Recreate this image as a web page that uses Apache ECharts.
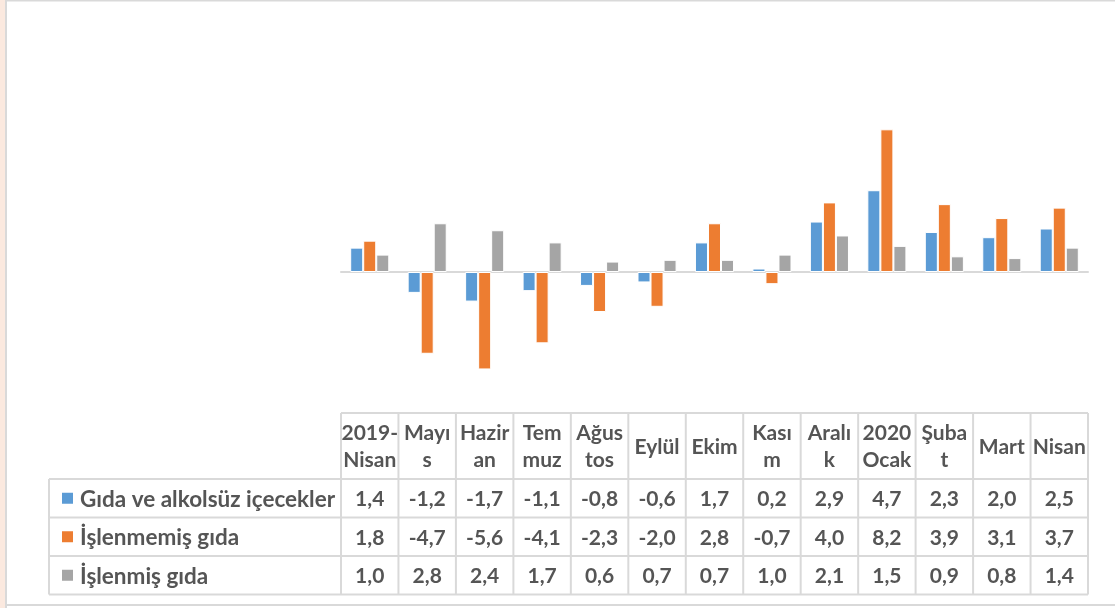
<!DOCTYPE html>
<html><head><meta charset="utf-8">
<script src="https://cdn.jsdelivr.net/npm/echarts@6/dist/echarts.min.js"></script>
<style>html,body{margin:0;padding:0;background:#fff}#c{width:1115px;height:608px}</style>
</head><body><div id="c"></div>
<script>
const categories = ['2019-Nisan','Mayıs','Haziran','Temmuz','Ağustos','Eylül','Ekim','Kasım','Aralık','2020 Ocak','Şubat','Mart','Nisan'];
const headerLabels = ['2019-\nNisan','Mayı\ns','Hazir\nan','Tem\nmuz','Ağus\ntos','Eylül','Ekim','Kası\nm','Aralı\nk','2020\nOcak','Şuba\nt','Mart','Nisan'];
const seriesNames = ['Gıda ve alkolsüz içecekler','İşlenmemiş gıda','İşlenmiş gıda'];
const gida = [1.4,-1.2,-1.7,-1.1,-0.8,-0.6,1.7,0.2,2.9,4.7,2.3,2.0,2.5];
const islenmemis = [1.8,-4.7,-5.6,-4.1,-2.3,-2.0,2.8,-0.7,4.0,8.2,3.9,3.1,3.7];
const islenmis = [1.0,2.8,2.4,1.7,0.6,0.7,0.7,1.0,2.1,1.5,0.9,0.8,1.4];
const seriesData = [gida, islenmemis, islenmis];
const colors = ['#5b9bd5','#ed7d31','#a5a5a5'];

const GL = 341, GW = 747, GT = 98, GH = 278.4;
const colW = GW / categories.length;
const tTop = 413, hdrH = 66, rowH = 38.5, legL = 49;
const FONT = 'Lato';
const TXT = '#555555';
const lineC = '#d9d9d9';

const fmt = v => v.toFixed(1).replace('.', ',');

const g = [];
// frame
g.push({type:'rect', shape:{x:0,y:0,width:5,height:608}, style:{fill:'#fbe9df'}, silent:true});
g.push({type:'line', shape:{x1:6,y1:0,x2:6,y2:608}, style:{stroke:lineC,lineWidth:2}, silent:true});
g.push({type:'line', shape:{x1:6,y1:0.5,x2:1115,y2:0.5}, style:{stroke:lineC,lineWidth:2}, silent:true});
g.push({type:'line', shape:{x1:6,y1:605,x2:1115,y2:605}, style:{stroke:lineC,lineWidth:2}, silent:true});

const tBot = tTop + hdrH + rowH * 3;
const GR = GL + GW;
g.push({type:'line', shape:{x1:GL,y1:tTop,x2:GR,y2:tTop}, style:{stroke:lineC,lineWidth:2}, silent:true});
for (let r = 0; r <= 3; r++) {
  const y = tTop + hdrH + rowH * r;
  g.push({type:'line', shape:{x1:legL,y1:y,x2:GR,y2:y}, style:{stroke:lineC,lineWidth:2}, silent:true});
}
g.push({type:'line', shape:{x1:legL,y1:tTop+hdrH,x2:legL,y2:tBot}, style:{stroke:lineC,lineWidth:2}, silent:true});
for (let i = 0; i <= categories.length; i++) {
  const x = GL + colW * i;
  g.push({type:'line', shape:{x1:x,y1:tTop,x2:x,y2:tBot}, style:{stroke:lineC,lineWidth:2}, silent:true});
}
headerLabels.forEach((lab, i) => {
  g.push({type:'text', x: GL + colW * (i + 0.5), y: tTop + hdrH / 2 + 1,
    style:{text: lab, fill: TXT, font: 'bold 21px ' + FONT, align:'center', verticalAlign:'middle', lineHeight: 27}, silent:true});
});
seriesNames.forEach((name, r) => {
  const cy = tTop + hdrH + rowH * (r + 0.5);
  g.push({type:'rect', shape:{x:62,y:cy-5.5,width:11,height:11}, style:{fill: colors[r]}, silent:true});
  g.push({type:'text', x: 80, y: cy + 1, style:{text: name, fill: TXT, font: 'bold 22.5px ' + FONT, align:'left', verticalAlign:'middle'}, silent:true});
  seriesData[r].forEach((v, i) => {
    g.push({type:'text', x: GL + colW * (i + 0.5), y: cy + 1,
      style:{text: fmt(v), fill: TXT, font: 'bold 21px ' + FONT, align:'center', verticalAlign:'middle'}, silent:true});
  });
});

const chart = echarts.init(document.getElementById('c'));
chart.setOption({
  animation: false,
  backgroundColor: '#fff',
  grid: {left: GL, width: GW, top: GT, height: GH},
  xAxis: {type:'category', data: categories,
    axisLine:{show:true, onZero:true, lineStyle:{color:lineC, width:2}},
    axisTick:{show:false}, axisLabel:{show:false}, splitLine:{show:false}},
  yAxis: {type:'value', min:-6, max:10, interval:2, show:false, splitLine:{show:false}},
  series: seriesNames.map((n, k) => ({
    name: n, type:'bar', data: seriesData[k], barGap: '0%', barCategoryGap: '32%',
    itemStyle:{color: colors[k], borderColor:'#fff', borderWidth:1}
  })),
  graphic: g
});
</script></body></html>
